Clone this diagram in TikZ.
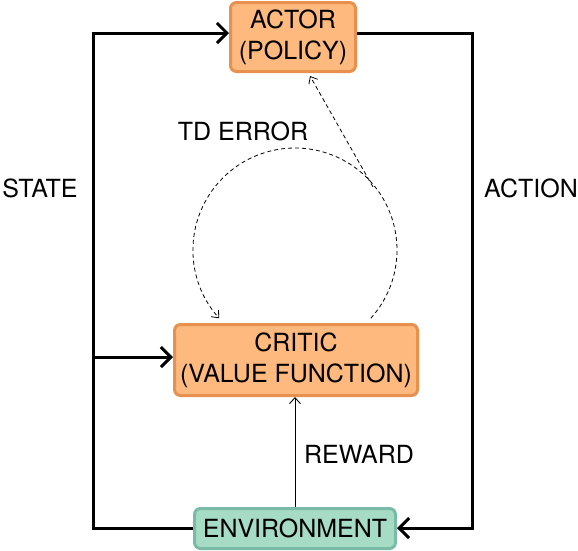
\documentclass[tikz,border=0pt]{standalone}
\usepackage{fontspec}
\setmainfont{TeX Gyre Heros}
\usetikzlibrary{arrows.meta,calc}
\definecolor{orfill}{HTML}{FDB97E}
\definecolor{ordraw}{HTML}{E8904E}
\definecolor{grfill}{HTML}{A6DCC6}
\definecolor{grdraw}{HTML}{79BBA6}
\begin{document}
\begin{tikzpicture}[x=1pt,y=-1pt,
  every node/.style={font=\fontsize{25}{31}\selectfont, inner sep=0pt},
  orangebox/.style={draw=ordraw, fill=orfill, line width=3pt, rounded corners=6pt, align=center},
  greenbox/.style={draw=grdraw, fill=grfill, line width=3pt, rounded corners=6pt, align=center},
  mainline/.style={line width=3pt, line join=miter},
  bigarrow/.style={-{Straight Barb[length=10pt,width=20pt,line width=3pt]}},
  thinarrow/.style={line width=0.9pt, -{Straight Barb[length=6pt,width=11pt,line width=0.9pt]}},
  dasharrow/.style={line width=0.8pt, dash pattern=on 4pt off 3pt, -{Straight Barb[length=6pt,width=10pt,line width=0.8pt]}},
  lbl/.style={anchor=center}]
\useasboundingbox (0,0) rectangle (578,550);

\node[orangebox, minimum width=125pt, minimum height=69pt] (actor) at (293,37) {ACTOR\\(POLICY)};
\node[orangebox, minimum width=243pt, minimum height=71pt] (critic) at (296,360) {CRITIC\\(VALUE FUNCTION)};
\node[greenbox, minimum width=201pt, minimum height=40pt] (env) at (295,528.5) {ENVIRONMENT};

\coordinate (tl) at (93,33);
\coordinate (bl) at (93,528);
\coordinate (tr) at (472,33);
\coordinate (br) at (472,528);
\coordinate (ml) at (93,357);

% state path
\draw[mainline, bigarrow] (env.west |- bl) -- (bl) -- (tl) -- (actor.west |- tl);
\draw[mainline, bigarrow] (ml) -- (critic.west |- ml);
% action path
\draw[mainline, bigarrow] (actor.east |- tr) -- (tr) -- (br) -- (env.east |- br);
% reward
\draw[thinarrow] (env.north) -- (env.north |- critic.south);

% TD error loop
\coordinate (cc) at (295,250);
\coordinate (arcstart) at ($(cc)+(42:102)$);
\draw[dasharrow] (arcstart) arc[start angle=42, end angle=-222, radius=102];
\coordinate (tdstart) at (373,187);
\coordinate (tdend) at (310,76);
\draw[dasharrow] (tdstart) -- (tdend);

\node[lbl] (state) at (40,188) {STATE};
\node[lbl] (action) at (531,188) {ACTION};
\node[lbl] (tderr) at (243,131) {TD ERROR};
\node[lbl] (reward) at (359,454) {REWARD};
\end{tikzpicture}
\end{document}
